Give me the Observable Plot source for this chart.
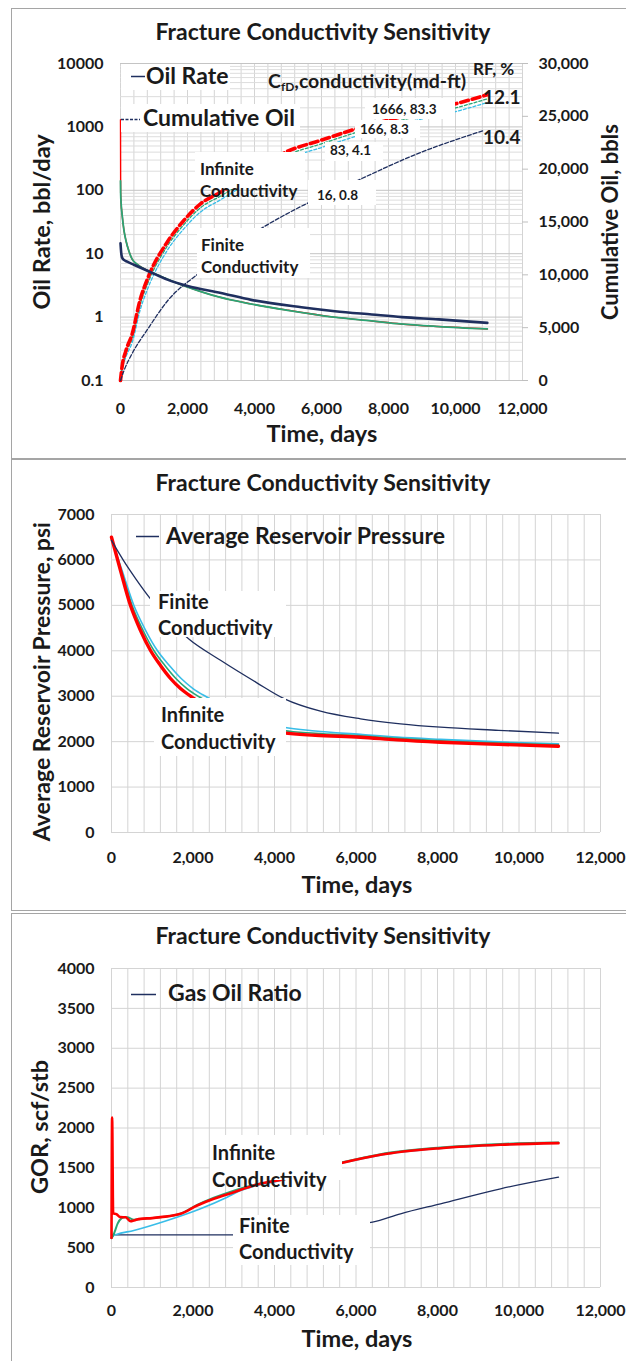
<!DOCTYPE html>
<html>
<head>
<meta charset="utf-8">
<script src="https://cdn.jsdelivr.net/npm/d3@7"></script>
<script src="https://cdn.jsdelivr.net/npm/@observablehq/plot@0.6"></script>
<style>
  html,body{margin:0;padding:0;background:#fff;}
  #root{position:relative;width:626px;height:1361px;overflow:hidden;font-family:Lato,"Open Sans",sans-serif;color:#1a1a1a;}
  .frame{position:absolute;left:11px;width:700px;border:1px solid #a5a5a5;box-sizing:border-box;}
  .chart{position:absolute;left:0;}
  .t{position:absolute;font-weight:700;white-space:nowrap;line-height:1;}
  .box{position:absolute;background:#fff;}
  #over{position:absolute;left:0;top:0;}
</style>
</head>
<body>
<div id="root"></div>
<script>
// ---------------- DATA ----------------
// Panel 1: oil rate (bbl/day, left log axis)
const rateFiniteT = [0, 20, 50, 100, 200, 400, 600, 900, 1400, 2000, 3000, 3900, 5400, 6400, 7500, 8400, 9500, 10950];
const rateFiniteV = [14.6, 10.5, 8.6, 8.0, 7.5, 6.7, 6.0, 5.1, 3.9, 3.1, 2.4, 1.87, 1.43, 1.24, 1.1, 1.0, 0.92, 0.81];
const rateInfT = [0, 5, 20, 45, 100, 164, 250, 343, 500, 818, 1200, 1990, 2900, 3880, 5000, 6370, 7500, 8358, 9500, 10950];
const rateInfV = [141, 90, 60, 43, 24, 16, 11, 8.3, 6.8, 5.4, 4.4, 3.0, 2.1, 1.62, 1.28, 1.0, 0.87, 0.78, 0.71, 0.65];
const rateRedV = [1300, 90, 60, 43, 24, 16, 11, 8.3, 6.8, 5.4, 4.4, 3.0, 2.1, 1.62, 1.28, 1.0, 0.87, 0.78, 0.71, 0.65];
// Panel 1: cumulative oil (bbls, right axis)
const cumT = [0, 45, 164, 350, 580, 827, 1393, 1890, 2388, 2985, 3500, 4000, 4925, 6000, 6965, 8000, 9000, 10000, 10946];
const cum1666 = [0, 1260, 2840, 4420, 7570, 9780, 13090, 15140, 16720, 17820, 18800, 19800, 21600, 22750, 23750, 24650, 25450, 26190, 27040];
const cum166 = [0, 1100, 2550, 4000, 7100, 9300, 12700, 14750, 16350, 17450, 18450, 19450, 21250, 22400, 23400, 24300, 25100, 25800, 26650];
const cum83 = [0, 950, 2250, 3600, 6600, 8800, 12300, 14350, 15950, 17100, 18100, 19100, 20900, 22050, 23050, 23950, 24750, 25450, 26300];
const cum16T = [0, 100, 343, 818, 1413, 2338, 3000, 4180, 5500, 6965, 8856, 10846];
const cum16 = [0, 900, 2530, 4890, 7570, 10150, 11800, 14350, 16650, 18770, 21450, 23660];
const caseLabels = ["1666, 83.3", "166, 8.3", "83, 4.1", "16, 0.8"];
const rfLabels = ["12.1", "10.4"];

// Panel 2: average reservoir pressure (psi)
const presFiniteT = [0, 300, 600, 957, 1890, 2675, 3558, 4245, 5129, 6110, 7092, 8074, 9500, 10969];
const presFiniteV = [6430, 5980, 5580, 5143, 4263, 3790, 3300, 2942, 2670, 2502, 2392, 2318, 2250, 2186];
const presRedT = [0, 221, 466, 712, 957, 1202, 1448, 1693, 1988, 4228, 5000, 6110, 7000, 8074, 9500, 10969];
const presRedV = [6500, 5767, 4996, 4446, 4006, 3676, 3390, 3169, 2971, 2194, 2140, 2098, 2040, 1988, 1940, 1900];
const presGreenT = [0, 240, 505, 775, 1040, 1310, 1580, 1850, 2167, 4228, 5000, 6110, 7000, 8074, 9500, 10969];
const presGreenV = [6480, 5767, 4996, 4446, 4006, 3676, 3390, 3169, 2978, 2245, 2185, 2130, 2075, 2020, 1970, 1930];
const presCyanT = [0, 260, 550, 840, 1125, 1420, 1710, 2000, 2348, 4228, 5000, 6110, 7000, 8074, 9500, 10969];
const presCyanV = [6450, 5767, 4996, 4446, 4006, 3676, 3390, 3169, 2978, 2318, 2235, 2160, 2100, 2050, 1995, 1952];

// Panel 3: gas oil ratio (scf/stb)
const gorRedT = [0, 15, 40, 120, 220, 350, 470, 550, 712, 1000, 1202, 1693, 2103, 2511, 3002, 3493, 3820, 4049, 5669, 6601, 8074, 9546, 10969];
const gorRedV = [620, 2130, 930, 920, 882, 880, 830, 840, 861, 870, 882, 924, 1028, 1112, 1195, 1279, 1320, 1338, 1564, 1664, 1747, 1790, 1810];
const gorGreenT = [0, 40, 74, 150, 250, 319, 400, 550, 712, 1202, 1693, 2103, 2511, 3002, 3300, 3493, 4049, 5669, 6601, 8074, 9546, 10969];
const gorGreenV = [620, 650, 693, 800, 870, 882, 880, 850, 860, 882, 924, 1035, 1125, 1215, 1260, 1285, 1340, 1570, 1672, 1755, 1800, 1818];
const gorCyanT = [0, 50, 120, 547, 1366, 2184, 2838, 3165, 3500, 4049, 5669, 6601, 8074, 9546, 10969];
const gorCyanV = [620, 652, 665, 715, 840, 987, 1132, 1215, 1270, 1330, 1560, 1660, 1745, 1788, 1808];
const gorFiniteT = [0, 50, 100, 500, 1500, 2970, 6405, 7092, 8074, 9546, 10969];
const gorFiniteV = [620, 673, 660, 661, 661, 661, 819, 924, 1050, 1238, 1383];

// ticks
const timeTicks = [0, 2000, 4000, 6000, 8000, 10000, 12000];
const rateTicks = [0.1, 1, 10, 100, 1000, 10000];
const cumTicks = [0, 5000, 10000, 15000, 20000, 25000, 30000];
const presTicks = [0, 1000, 2000, 3000, 4000, 5000, 6000, 7000];
const gorTicks = [0, 500, 1000, 1500, 2000, 2500, 3000, 3500, 4000];

// ---------------- STYLE ----------------
const FONT = "Lato, 'Open Sans', sans-serif";
const C = {navy: "#1f2f5f", red: "#ff0000", green: "#2aa676", cyan: "#38bde8", grid: "#d4d4d4", gridMinor: "#dddddd"};
const W = 626;
const series = (T, V) => T.map((t, i) => ({t, v: V[i]}));
const cumToRate = v => Math.pow(10, -1 + 5 * v / 30000);   // right axis -> left log axis
const vGrid = d3.range(0, 12001, 400);
const logMinor = [];
for (let e = -1; e <= 3; e++) for (let k = 2; k <= 9; k++) logMinor.push(k * Math.pow(10, e));

const root = document.getElementById("root");
function place(el, top) { el.classList.add("chart"); el.style.top = top + "px"; root.appendChild(el); }
const baseStyle = {fontFamily: FONT, fontSize: "16px", fontWeight: "bold", color: "#1a1a1a", background: "transparent", overflow: "visible"};

// frames
[[8, 451], [459, 452], [913, 460]].forEach(([top, h]) => {
  const d = document.createElement("div"); d.className = "frame";
  d.style.top = top + "px"; d.style.height = h + "px"; root.appendChild(d);
});

// ---------------- PANEL 1 ----------------
const p1 = Plot.plot({
  width: W, height: 451,
  marginTop: 55, marginBottom: 79, marginLeft: 120, marginRight: 104,
  x: {domain: [0, 12000], label: null},
  y: {type: "log", domain: [0.1, 10000], label: null},
  style: baseStyle,
  marks: [
    Plot.ruleX(vGrid, {stroke: C.grid}),
    Plot.ruleY(logMinor, {stroke: C.gridMinor}),
    Plot.ruleY(rateTicks, {stroke: "#c4c4c4"}),
    Plot.axisX({ticks: timeTicks, tickFormat: d3.format(","), tickSize: 0, tickPadding: 22, label: null, fontSize: 16}),
    Plot.axisY({ticks: rateTicks, tickFormat: d => d < 1 ? "0.1" : String(d), tickSize: 0, tickPadding: 17, label: null, fontSize: 16}),
    Plot.text(cumTicks, {y: d => cumToRate(d), frameAnchor: "right", text: d => d3.format(",")(d), textAnchor: "start", dx: 16, fontSize: 16, fontWeight: "bold", fill: "#1a1a1a"}),
    Plot.line(series(rateInfT, rateRedV), {x: "t", y: "v", stroke: C.red, strokeWidth: 1.4, curve: "monotone-x"}),
    Plot.line(series(rateInfT, rateInfV), {x: "t", y: "v", stroke: C.green, strokeWidth: 1.8, curve: "monotone-x"}),
    Plot.line(series(cumT, cum83), {x: "t", y: d => cumToRate(d.v), stroke: C.cyan, strokeWidth: 1.3, strokeDasharray: "3,2", curve: "monotone-x"}),
    Plot.line(series(cumT, cum166), {x: "t", y: d => cumToRate(d.v), stroke: C.green, strokeWidth: 1.3, strokeDasharray: "3,2", curve: "monotone-x"}),
    Plot.line(series(cumT, cum1666), {x: "t", y: d => cumToRate(d.v), stroke: C.red, strokeWidth: 3.6, strokeDasharray: "8,4", curve: "monotone-x"}),
    Plot.line(series(cum16T, cum16), {x: "t", y: d => cumToRate(d.v), stroke: C.navy, strokeWidth: 1.3, strokeDasharray: "4,2", curve: "monotone-x"}),
    Plot.line(series(rateFiniteT, rateFiniteV), {x: "t", y: "v", stroke: C.navy, strokeWidth: 2.6, curve: "monotone-x"})
  ]
});
place(p1, 8);

// ---------------- PANEL 2 ----------------
const p2 = Plot.plot({
  width: W, height: 452,
  marginTop: 55, marginBottom: 79, marginLeft: 111, marginRight: 26,
  x: {domain: [0, 12000], label: null},
  y: {domain: [0, 7000], label: null},
  style: baseStyle,
  marks: [
    Plot.ruleX(vGrid, {stroke: C.grid}),
    Plot.ruleY(presTicks, {stroke: C.grid}),
    Plot.axisX({ticks: timeTicks, tickFormat: d3.format(","), tickSize: 0, tickPadding: 19, label: null, fontSize: 16}),
    Plot.axisY({ticks: presTicks, tickFormat: d => String(d), tickSize: 0, tickPadding: 17, label: null, fontSize: 16}),
    Plot.line(series(presCyanT, presCyanV), {x: "t", y: "v", stroke: C.cyan, strokeWidth: 1.6, curve: "monotone-x"}),
    Plot.line(series(presGreenT, presGreenV), {x: "t", y: "v", stroke: C.green, strokeWidth: 1.6, curve: "monotone-x"}),
    Plot.line(series(presRedT, presRedV), {x: "t", y: "v", stroke: C.red, strokeWidth: 3.4, curve: "monotone-x"}),
    Plot.line(series(presFiniteT, presFiniteV), {x: "t", y: "v", stroke: C.navy, strokeWidth: 1.3, curve: "monotone-x"})
  ]
});
place(p2, 459);

// ---------------- PANEL 3 ----------------
const p3 = Plot.plot({
  width: W, height: 448,
  marginTop: 55, marginBottom: 74, marginLeft: 111, marginRight: 26,
  x: {domain: [0, 12000], label: null},
  y: {domain: [0, 4000], label: null},
  style: baseStyle,
  marks: [
    Plot.ruleX(vGrid, {stroke: C.grid}),
    Plot.ruleY(gorTicks, {stroke: C.grid}),
    Plot.axisX({ticks: timeTicks, tickFormat: d3.format(","), tickSize: 0, tickPadding: 17, label: null, fontSize: 16}),
    Plot.axisY({ticks: gorTicks, tickFormat: d => String(d), tickSize: 0, tickPadding: 17, label: null, fontSize: 16}),
    Plot.line(series(gorFiniteT, gorFiniteV), {x: "t", y: "v", stroke: C.navy, strokeWidth: 1.3, curve: "monotone-x"}),
    Plot.line(series(gorCyanT, gorCyanV), {x: "t", y: "v", stroke: C.cyan, strokeWidth: 1.6, curve: "monotone-x"}),
    Plot.line(series(gorGreenT, gorGreenV), {x: "t", y: "v", stroke: C.green, strokeWidth: 2, curve: "monotone-x"}),
    Plot.line(series(gorRedT, gorRedV), {x: "t", y: "v", stroke: C.red, strokeWidth: 2.6, curve: "monotone-x"})
  ]
});
place(p3, 913);

// ---------------- ANNOTATIONS ----------------
function box(x1, y1, x2, y2) {
  const d = document.createElement("div"); d.className = "box";
  Object.assign(d.style, {left: x1 + "px", top: y1 + "px", width: (x2 - x1) + "px", height: (y2 - y1) + "px"});
  root.appendChild(d);
}
function text(str, x, yc, size, anchor = "start", rotate = false, html = false) {
  const d = document.createElement("div"); d.className = "t";
  if (html) d.innerHTML = str; else d.textContent = str;
  d.style.fontSize = size + "px";
  root.appendChild(d);
  const w = d.offsetWidth;
  let left = anchor === "start" ? x : anchor === "end" ? x - w : x - w / 2;
  d.style.left = left + "px";
  d.style.top = (yc - size * 0.55) + "px";
  if (rotate) { d.style.transform = "rotate(-90deg)"; d.style.transformOrigin = "50% 55%"; }
  return d;
}
// white label boxes (they hide lines and gridlines, as in the original)
box(121, 64, 230, 90);      // panel 1 legend, "Oil Rate"
box(121, 104, 300, 132);    // panel 1 legend, "Cumulative Oil"
box(195, 152, 305, 189);    // Infinite conductivity (p1)
box(197, 228, 310, 278);    // Finite conductivity (p1)
box(308, 180, 376, 205);    // 16, 0.8
box(325, 142, 383, 161);    // 83, 4.1
box(355, 120, 420, 138);    // 166, 8.3
box(365, 98, 455, 119);     // 1666, 83.3
box(150, 591, 286, 637);    // Finite (p2)
box(154, 698, 286, 756);    // Infinite (p2)
box(210, 1135, 342, 1180);  // Infinite (p3)
box(233, 1215, 370, 1265);  // Finite (p3)

// legend line samples
const ns = "http://www.w3.org/2000/svg";
const over = document.createElementNS(ns, "svg");
over.setAttribute("id", "over"); over.setAttribute("width", 626); over.setAttribute("height", 1361);
root.appendChild(over);
function seg(x1, y1, x2, y2, stroke, w, dash) {
  const l = document.createElementNS(ns, "line");
  l.setAttribute("x1", x1); l.setAttribute("y1", y1); l.setAttribute("x2", x2); l.setAttribute("y2", y2);
  l.setAttribute("stroke", stroke); l.setAttribute("stroke-width", w);
  if (dash) l.setAttribute("stroke-dasharray", dash);
  over.appendChild(l);
}
seg(131, 76.5, 145, 76.5, C.navy, 1.5);
seg(121, 119.5, 140, 119.5, C.navy, 1.3, "3,1.5");
seg(136, 536.5, 159, 536.5, C.navy, 1.5);
seg(131, 994.5, 156, 994.5, C.navy, 1.5);
// right-axis tick marks, panel 1
cumTicks.forEach((v, i) => seg(522, 380.5 - i * 317 / 6, 528, 380.5 - i * 317 / 6, "#bfbfbf", 1));

// titles
[33, 484, 937].forEach(y => text("Fracture Conductivity Sensitivity", 323, y, 23, "middle"));
// axis titles
text("Time, days", 322, 435, 23.5, "middle");
text("Time, days", 357, 886, 23.5, "middle");
text("Time, days", 357, 1340, 23.5, "middle");
text("Oil Rate, bbl/day", 42, 222, 23.5, "middle", true);
text("Cumulative Oil, bbls", 611, 222, 22, "middle", true);
text("Average Reservoir Pressure, psi", 42, 682, 23, "middle", true);
text("GOR, scf/stb", 41, 1127, 23.5, "middle", true);
// legends
text("Oil Rate", 146, 77, 23);
text("Cumulative Oil", 143, 119, 23);
text("Average Reservoir Pressure", 166, 537, 23);
text("Gas Oil Ratio", 168, 994, 23);
// panel 1 annotations
text("Infinite", 200, 169, 17);
text("Conductivity", 200, 191, 17);
text("Finite", 201, 245, 17);
text("Conductivity", 201, 267, 17);
text(caseLabels[0], 372, 110, 13.5);
text(caseLabels[1], 360, 130, 13.5);
text(caseLabels[2], 330, 151, 13.5);
text(caseLabels[3], 317, 196, 13.5);
text("C<sub style='font-size:12px;vertical-align:-3px'>fD</sub>,conductivity(md-ft)", 268, 82, 19.5, "start", false, true);
text("RF, %", 473, 69, 17);
text(rfLabels[0], 521, 97, 19, "end");
text(rfLabels[1], 521, 137, 19, "end");
// panel 2 annotations
text("Finite", 158, 602, 20);
text("Conductivity", 158, 628, 20);
text("Infinite", 161, 715, 20);
text("Conductivity", 161, 742, 20);
// panel 3 annotations
text("Infinite", 212, 1153, 20);
text("Conductivity", 212, 1180, 20);
text("Finite", 239, 1226, 20);
text("Conductivity", 239, 1252, 20);
</script>
</body>
</html>
